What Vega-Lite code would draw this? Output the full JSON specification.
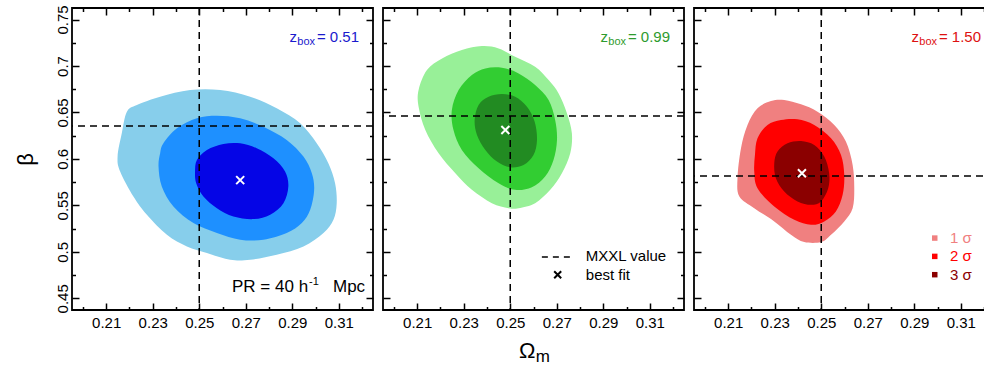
{
  "$schema": "https://vega.github.io/schema/vega-lite/v6.json",
  "background": "white",
  "padding": {"left": 13, "top": 4, "right": 0, "bottom": 0},
  "spacing": 6,
  "config": {
    "view": {"stroke": "black", "strokeWidth": 1.8},
    "font": "Liberation Sans",
    "axis": {"labelFont": "Liberation Sans", "labelFontSize": 15, "labelColor": "black", "tickColor": "black", "tickWidth": 1.5, "domain": false, "grid": false, "labelOverlap": false, "labelFlush": false},
    "text": {"font": "Liberation Sans"}
  },
  "datasets": {
    "contours": [
      {"p":1,"l":1,"i":0,"x":0.2189,"y":0.6508},{"p":1,"l":1,"i":1,"x":0.2232,"y":0.6580},{"p":1,"l":1,"i":2,"x":0.2332,"y":0.6669},{"p":1,"l":1,"i":3,"x":0.2461,"y":0.6741},{"p":1,"l":1,"i":4,"x":0.2590,"y":0.6741},{"p":1,"l":1,"i":5,"x":0.2719,"y":0.6669},{"p":1,"l":1,"i":6,"x":0.2833,"y":0.6544},{"p":1,"l":1,"i":7,"x":0.2934,"y":0.6383},{"p":1,"l":1,"i":8,"x":0.3005,"y":0.6168},{"p":1,"l":1,"i":9,"x":0.3055,"y":0.5953},{"p":1,"l":1,"i":10,"x":0.3084,"y":0.5739},{"p":1,"l":1,"i":11,"x":0.3091,"y":0.5524},{"p":1,"l":1,"i":12,"x":0.3077,"y":0.5345},{"p":1,"l":1,"i":13,"x":0.3034,"y":0.5202},{"p":1,"l":1,"i":14,"x":0.2948,"y":0.5058},{"p":1,"l":1,"i":15,"x":0.2833,"y":0.4969},{"p":1,"l":1,"i":16,"x":0.2719,"y":0.4915},{"p":1,"l":1,"i":17,"x":0.2633,"y":0.4915},{"p":1,"l":1,"i":18,"x":0.2533,"y":0.4987},{"p":1,"l":1,"i":19,"x":0.2447,"y":0.5058},{"p":1,"l":1,"i":20,"x":0.2361,"y":0.5184},{"p":1,"l":1,"i":21,"x":0.2275,"y":0.5399},{"p":1,"l":1,"i":22,"x":0.2217,"y":0.5595},{"p":1,"l":1,"i":23,"x":0.2160,"y":0.5864},{"p":1,"l":1,"i":24,"x":0.2149,"y":0.6025},{"p":1,"l":1,"i":25,"x":0.2167,"y":0.6276},
      {"p":1,"l":2,"i":0,"x":0.2346,"y":0.6168},{"p":1,"l":2,"i":1,"x":0.2404,"y":0.6329},{"p":1,"l":2,"i":2,"x":0.2490,"y":0.6437},{"p":1,"l":2,"i":3,"x":0.2576,"y":0.6465},{"p":1,"l":2,"i":4,"x":0.2676,"y":0.6437},{"p":1,"l":2,"i":5,"x":0.2776,"y":0.6347},{"p":1,"l":2,"i":6,"x":0.2876,"y":0.6204},{"p":1,"l":2,"i":7,"x":0.2948,"y":0.6025},{"p":1,"l":2,"i":8,"x":0.2984,"y":0.5846},{"p":1,"l":2,"i":9,"x":0.2994,"y":0.5667},{"p":1,"l":2,"i":10,"x":0.2977,"y":0.5452},{"p":1,"l":2,"i":11,"x":0.2941,"y":0.5309},{"p":1,"l":2,"i":12,"x":0.2876,"y":0.5202},{"p":1,"l":2,"i":13,"x":0.2776,"y":0.5130},{"p":1,"l":2,"i":14,"x":0.2676,"y":0.5130},{"p":1,"l":2,"i":15,"x":0.2576,"y":0.5202},{"p":1,"l":2,"i":16,"x":0.2475,"y":0.5309},{"p":1,"l":2,"i":17,"x":0.2389,"y":0.5488},{"p":1,"l":2,"i":18,"x":0.2339,"y":0.5703},{"p":1,"l":2,"i":19,"x":0.2325,"y":0.5918},{"p":1,"l":2,"i":20,"x":0.2332,"y":0.6061},
      {"p":1,"l":3,"i":0,"x":0.2490,"y":0.5989},{"p":1,"l":3,"i":1,"x":0.2533,"y":0.6097},{"p":1,"l":3,"i":2,"x":0.2604,"y":0.6161},{"p":1,"l":3,"i":3,"x":0.2676,"y":0.6168},{"p":1,"l":3,"i":4,"x":0.2747,"y":0.6115},{"p":1,"l":3,"i":5,"x":0.2819,"y":0.6007},{"p":1,"l":3,"i":6,"x":0.2869,"y":0.5864},{"p":1,"l":3,"i":7,"x":0.2883,"y":0.5703},{"p":1,"l":3,"i":8,"x":0.2862,"y":0.5524},{"p":1,"l":3,"i":9,"x":0.2805,"y":0.5399},{"p":1,"l":3,"i":10,"x":0.2733,"y":0.5352},{"p":1,"l":3,"i":11,"x":0.2647,"y":0.5381},{"p":1,"l":3,"i":12,"x":0.2576,"y":0.5470},{"p":1,"l":3,"i":13,"x":0.2518,"y":0.5595},{"p":1,"l":3,"i":14,"x":0.2487,"y":0.5739},{"p":1,"l":3,"i":15,"x":0.2482,"y":0.5864},
      {"p":2,"l":1,"i":0,"x":0.2142,"y":0.6956},{"p":2,"l":1,"i":1,"x":0.2207,"y":0.7081},{"p":2,"l":1,"i":2,"x":0.2292,"y":0.7171},{"p":2,"l":1,"i":3,"x":0.2378,"y":0.7214},{"p":2,"l":1,"i":4,"x":0.2450,"y":0.7189},{"p":2,"l":1,"i":5,"x":0.2521,"y":0.7099},{"p":2,"l":1,"i":6,"x":0.2607,"y":0.6992},{"p":2,"l":1,"i":7,"x":0.2665,"y":0.6848},{"p":2,"l":1,"i":8,"x":0.2708,"y":0.6705},{"p":2,"l":1,"i":9,"x":0.2744,"y":0.6490},{"p":2,"l":1,"i":10,"x":0.2765,"y":0.6276},{"p":2,"l":1,"i":11,"x":0.2758,"y":0.6061},{"p":2,"l":1,"i":12,"x":0.2722,"y":0.5846},{"p":2,"l":1,"i":13,"x":0.2672,"y":0.5667},{"p":2,"l":1,"i":14,"x":0.2607,"y":0.5524},{"p":2,"l":1,"i":15,"x":0.2536,"y":0.5470},{"p":2,"l":1,"i":16,"x":0.2493,"y":0.5470},{"p":2,"l":1,"i":17,"x":0.2421,"y":0.5524},{"p":2,"l":1,"i":18,"x":0.2335,"y":0.5667},{"p":2,"l":1,"i":19,"x":0.2264,"y":0.5846},{"p":2,"l":1,"i":20,"x":0.2192,"y":0.6061},{"p":2,"l":1,"i":21,"x":0.2135,"y":0.6311},{"p":2,"l":1,"i":22,"x":0.2106,"y":0.6562},{"p":2,"l":1,"i":23,"x":0.2106,"y":0.6741},
      {"p":2,"l":2,"i":0,"x":0.2278,"y":0.6741},{"p":2,"l":2,"i":1,"x":0.2335,"y":0.6902},{"p":2,"l":2,"i":2,"x":0.2393,"y":0.6974},{"p":2,"l":2,"i":3,"x":0.2464,"y":0.6981},{"p":2,"l":2,"i":4,"x":0.2536,"y":0.6920},{"p":2,"l":2,"i":5,"x":0.2607,"y":0.6795},{"p":2,"l":2,"i":6,"x":0.2665,"y":0.6634},{"p":2,"l":2,"i":7,"x":0.2693,"y":0.6419},{"p":2,"l":2,"i":8,"x":0.2701,"y":0.6204},{"p":2,"l":2,"i":9,"x":0.2686,"y":0.5989},{"p":2,"l":2,"i":10,"x":0.2650,"y":0.5810},{"p":2,"l":2,"i":11,"x":0.2593,"y":0.5696},{"p":2,"l":2,"i":12,"x":0.2521,"y":0.5667},{"p":2,"l":2,"i":13,"x":0.2450,"y":0.5739},{"p":2,"l":2,"i":14,"x":0.2364,"y":0.5900},{"p":2,"l":2,"i":15,"x":0.2292,"y":0.6097},{"p":2,"l":2,"i":16,"x":0.2256,"y":0.6311},{"p":2,"l":2,"i":17,"x":0.2249,"y":0.6526},
      {"p":2,"l":3,"i":0,"x":0.2364,"y":0.6580},{"p":2,"l":3,"i":1,"x":0.2407,"y":0.6669},{"p":2,"l":3,"i":2,"x":0.2464,"y":0.6698},{"p":2,"l":3,"i":3,"x":0.2521,"y":0.6669},{"p":2,"l":3,"i":4,"x":0.2572,"y":0.6562},{"p":2,"l":3,"i":5,"x":0.2605,"y":0.6401},{"p":2,"l":3,"i":6,"x":0.2615,"y":0.6204},{"p":2,"l":3,"i":7,"x":0.2600,"y":0.6043},{"p":2,"l":3,"i":8,"x":0.2557,"y":0.5935},{"p":2,"l":3,"i":9,"x":0.2500,"y":0.5910},{"p":2,"l":3,"i":10,"x":0.2443,"y":0.5971},{"p":2,"l":3,"i":11,"x":0.2393,"y":0.6097},{"p":2,"l":3,"i":12,"x":0.2357,"y":0.6258},{"p":2,"l":3,"i":13,"x":0.2347,"y":0.6419},
      {"p":3,"l":1,"i":0,"x":0.2183,"y":0.6365},{"p":3,"l":1,"i":1,"x":0.2226,"y":0.6544},{"p":3,"l":1,"i":2,"x":0.2284,"y":0.6623},{"p":3,"l":1,"i":3,"x":0.2341,"y":0.6634},{"p":3,"l":1,"i":4,"x":0.2413,"y":0.6587},{"p":3,"l":1,"i":5,"x":0.2484,"y":0.6508},{"p":3,"l":1,"i":6,"x":0.2556,"y":0.6365},{"p":3,"l":1,"i":7,"x":0.2606,"y":0.6186},{"p":3,"l":1,"i":8,"x":0.2635,"y":0.5935},{"p":3,"l":1,"i":9,"x":0.2642,"y":0.5685},{"p":3,"l":1,"i":10,"x":0.2635,"y":0.5470},{"p":3,"l":1,"i":11,"x":0.2599,"y":0.5327},{"p":3,"l":1,"i":12,"x":0.2542,"y":0.5184},{"p":3,"l":1,"i":13,"x":0.2499,"y":0.5105},{"p":3,"l":1,"i":14,"x":0.2427,"y":0.5105},{"p":3,"l":1,"i":15,"x":0.2370,"y":0.5184},{"p":3,"l":1,"i":16,"x":0.2298,"y":0.5327},{"p":3,"l":1,"i":17,"x":0.2212,"y":0.5470},{"p":3,"l":1,"i":18,"x":0.2148,"y":0.5595},{"p":3,"l":1,"i":19,"x":0.2140,"y":0.5792},{"p":3,"l":1,"i":20,"x":0.2155,"y":0.6115},
      {"p":3,"l":2,"i":0,"x":0.2226,"y":0.6222},{"p":3,"l":2,"i":1,"x":0.2269,"y":0.6365},{"p":3,"l":2,"i":2,"x":0.2327,"y":0.6419},{"p":3,"l":2,"i":3,"x":0.2398,"y":0.6426},{"p":3,"l":2,"i":4,"x":0.2470,"y":0.6365},{"p":3,"l":2,"i":5,"x":0.2542,"y":0.6222},{"p":3,"l":2,"i":6,"x":0.2585,"y":0.6043},{"p":3,"l":2,"i":7,"x":0.2599,"y":0.5828},{"p":3,"l":2,"i":8,"x":0.2592,"y":0.5613},{"p":3,"l":2,"i":9,"x":0.2563,"y":0.5434},{"p":3,"l":2,"i":10,"x":0.2513,"y":0.5327},{"p":3,"l":2,"i":11,"x":0.2456,"y":0.5291},{"p":3,"l":2,"i":12,"x":0.2384,"y":0.5345},{"p":3,"l":2,"i":13,"x":0.2298,"y":0.5488},{"p":3,"l":2,"i":14,"x":0.2226,"y":0.5685},{"p":3,"l":2,"i":15,"x":0.2212,"y":0.5864},{"p":3,"l":2,"i":16,"x":0.2215,"y":0.6043},
      {"p":3,"l":3,"i":0,"x":0.2298,"y":0.5953},{"p":3,"l":3,"i":1,"x":0.2312,"y":0.6079},{"p":3,"l":3,"i":2,"x":0.2355,"y":0.6168},{"p":3,"l":3,"i":3,"x":0.2413,"y":0.6193},{"p":3,"l":3,"i":4,"x":0.2470,"y":0.6150},{"p":3,"l":3,"i":5,"x":0.2513,"y":0.6025},{"p":3,"l":3,"i":6,"x":0.2534,"y":0.5846},{"p":3,"l":3,"i":7,"x":0.2530,"y":0.5685},{"p":3,"l":3,"i":8,"x":0.2499,"y":0.5542},{"p":3,"l":3,"i":9,"x":0.2456,"y":0.5506},{"p":3,"l":3,"i":10,"x":0.2398,"y":0.5542},{"p":3,"l":3,"i":11,"x":0.2341,"y":0.5649},{"p":3,"l":3,"i":12,"x":0.2305,"y":0.5792}
    ],
    "mxxl": [{"p":1,"om":0.25,"beta":0.6355},{"p":2,"om":0.25,"beta":0.6462},{"p":3,"om":0.25,"beta":0.5817}],
    "bestfit": [{"p":1,"x":0.2676,"y":0.5772},{"p":2,"x":0.2479,"y":0.6311},{"p":3,"x":0.2417,"y":0.5846}]
  },
  "hconcat": [
    {
      "width": 301, "height": 302,
      "resolve": {"axis": {"x": "independent", "y": "independent"}},
      "layer": [
        {"data": {"name": "contours"}, "transform": [{"filter": "datum.p == 1 && datum.l == 1"}],
         "mark": {"type": "line", "interpolate": "cardinal-closed", "filled": true, "color": "#87CEEB"},
         "encoding": {
           "x": {"field": "x", "type": "quantitative", "scale": {"domain": [0.1953, 0.3247], "nice": false, "zero": false},
             "axis": {"orient": "bottom", "values": [0.2,0.21,0.22,0.23,0.24,0.25,0.26,0.27,0.28,0.29,0.3,0.31,0.32], "tickSize": {"condition": {"test": "round(datum.value*100)%2==1", "value": -7}, "value": -3.5}, "labelExpr": "round(datum.value*100)%2==1 ? format(datum.value,'.2f') : ''", "labelPadding": 12, "title": null}},
           "y": {"field": "y", "type": "quantitative", "scale": {"domain": [0.4374, 0.7624], "nice": false, "zero": false},
             "axis": {"orient": "left", "values": [0.45,0.475,0.5,0.525,0.55,0.575,0.6,0.625,0.65,0.675,0.7,0.725,0.75], "tickSize": {"condition": {"test": "round(datum.value*1000)%50==0", "value": -7}, "value": -3.5}, "labelExpr": "round(datum.value*1000)%50==0 ? format(datum.value,'.2~f') : ''", "labelAngle": -90, "labelAlign": "center", "labelBaseline": "bottom", "labelPadding": 9, "title": "β", "titleFontSize": 22, "titleFontWeight": "normal", "titleColor": "black", "titleFont": "Liberation Sans", "titlePadding": 14}},
           "order": {"field": "i", "type": "quantitative"}}},
        {"data": {"name": "contours"}, "transform": [{"filter": "datum.p == 1 && datum.l == 2"}],
         "mark": {"type": "line", "interpolate": "cardinal-closed", "filled": true, "color": "#1E90FF"},
         "encoding": {"x": {"field": "x", "type": "quantitative", "axis": null}, "y": {"field": "y", "type": "quantitative", "axis": null}, "order": {"field": "i", "type": "quantitative"}}},
        {"data": {"name": "contours"}, "transform": [{"filter": "datum.p == 1 && datum.l == 3"}],
         "mark": {"type": "line", "interpolate": "cardinal-closed", "filled": true, "color": "#0505E6"},
         "encoding": {"x": {"field": "x", "type": "quantitative", "axis": null}, "y": {"field": "y", "type": "quantitative", "axis": null}, "order": {"field": "i", "type": "quantitative"}}},
        {"data": {"name": "mxxl"}, "transform": [{"filter": "datum.p == 1"}],
         "mark": {"type": "rule", "strokeDash": [7, 5], "strokeWidth": 1.5, "color": "black"},
         "encoding": {"x": {"field": "om", "type": "quantitative", "axis": {"orient": "top", "values": [0.2,0.21,0.22,0.23,0.24,0.25,0.26,0.27,0.28,0.29,0.3,0.31,0.32], "tickSize": {"condition": {"test": "round(datum.value*100)%2==1", "value": -7}, "value": -3.5}, "labels": false, "title": null}}}},
        {"data": {"name": "mxxl"}, "transform": [{"filter": "datum.p == 1"}],
         "mark": {"type": "rule", "strokeDash": [7, 5], "strokeWidth": 1.5, "color": "black"},
         "encoding": {"y": {"field": "beta", "type": "quantitative", "axis": {"orient": "right", "values": [0.45,0.475,0.5,0.525,0.55,0.575,0.6,0.625,0.65,0.675,0.7,0.725,0.75], "tickSize": {"condition": {"test": "round(datum.value*1000)%50==0", "value": -7}, "value": -3.5}, "labels": false, "title": null}}}},
        {"data": {"name": "bestfit"}, "transform": [{"filter": "datum.p == 1"}],
         "mark": {"type": "point", "shape": "M-1,-1L1,1M1,-1L-1,1", "filled": false, "stroke": "white", "strokeWidth": 2, "size": 64, "opacity": 1},
         "encoding": {"x": {"field": "x", "type": "quantitative", "axis": null}, "y": {"field": "y", "type": "quantitative", "axis": null}}},
        {"data": {"values": [{}]}, "mark": {"type": "text", "text": "= 0.51", "align": "right", "baseline": "alphabetic", "fontSize": 15, "color": "#1a1acd"},
         "encoding": {"x": {"datum": 0.3187, "type": "quantitative", "axis": null}, "y": {"datum": 0.726, "type": "quantitative", "axis": null}}},
        {"data": {"values": [{}]}, "mark": {"type": "text", "text": "box", "align": "right", "baseline": "alphabetic", "fontSize": 11, "dx": -44, "dy": 3.5, "color": "#1a1acd"},
         "encoding": {"x": {"datum": 0.3187, "type": "quantitative", "axis": null}, "y": {"datum": 0.726, "type": "quantitative", "axis": null}}},
        {"data": {"values": [{}]}, "mark": {"type": "text", "text": "z", "align": "right", "baseline": "alphabetic", "fontSize": 15, "dx": -62, "color": "#1a1acd"},
         "encoding": {"x": {"datum": 0.3187, "type": "quantitative", "axis": null}, "y": {"datum": 0.726, "type": "quantitative", "axis": null}}},
        {"data": {"values": [{}]}, "mark": {"type": "text", "text": "Mpc", "align": "right", "baseline": "alphabetic", "fontSize": 17, "color": "black"},
         "encoding": {"x": {"datum": 0.3213, "type": "quantitative", "axis": null}, "y": {"datum": 0.4571, "type": "quantitative", "axis": null}}},
        {"data": {"values": [{}]}, "mark": {"type": "text", "text": "-1", "align": "left", "baseline": "alphabetic", "fontSize": 11, "dx": -56, "dy": -6.5, "color": "black"},
         "encoding": {"x": {"datum": 0.3213, "type": "quantitative", "axis": null}, "y": {"datum": 0.4571, "type": "quantitative", "axis": null}}},
        {"data": {"values": [{}]}, "mark": {"type": "text", "text": "PR = 40 h", "align": "right", "baseline": "alphabetic", "fontSize": 17, "dx": -57, "color": "black"},
         "encoding": {"x": {"datum": 0.3213, "type": "quantitative", "axis": null}, "y": {"datum": 0.4571, "type": "quantitative", "axis": null}}}
      ]
    },
    {
      "width": 301, "height": 302,
      "resolve": {"axis": {"x": "independent", "y": "independent"}},
      "layer": [
        {"data": {"name": "contours"}, "transform": [{"filter": "datum.p == 2 && datum.l == 1"}],
         "mark": {"type": "line", "interpolate": "cardinal-closed", "filled": true, "color": "#98F098"},
         "encoding": {
           "x": {"field": "x", "type": "quantitative", "scale": {"domain": [0.1953, 0.3247], "nice": false, "zero": false},
             "axis": {"orient": "bottom", "values": [0.2,0.21,0.22,0.23,0.24,0.25,0.26,0.27,0.28,0.29,0.3,0.31,0.32], "tickSize": {"condition": {"test": "round(datum.value*100)%2==1", "value": -7}, "value": -3.5}, "labelExpr": "round(datum.value*100)%2==1 ? format(datum.value,'.2f') : ''", "labelPadding": 12, "title": null}},
           "y": {"field": "y", "type": "quantitative", "scale": {"domain": [0.4374, 0.7624], "nice": false, "zero": false},
             "axis": {"orient": "left", "values": [0.45,0.475,0.5,0.525,0.55,0.575,0.6,0.625,0.65,0.675,0.7,0.725,0.75], "tickSize": {"condition": {"test": "round(datum.value*1000)%50==0", "value": -7}, "value": -3.5}, "labels": false, "title": null}},
           "order": {"field": "i", "type": "quantitative"}}},
        {"data": {"name": "contours"}, "transform": [{"filter": "datum.p == 2 && datum.l == 2"}],
         "mark": {"type": "line", "interpolate": "cardinal-closed", "filled": true, "color": "#32CD32"},
         "encoding": {"x": {"field": "x", "type": "quantitative", "axis": null}, "y": {"field": "y", "type": "quantitative", "axis": null}, "order": {"field": "i", "type": "quantitative"}}},
        {"data": {"name": "contours"}, "transform": [{"filter": "datum.p == 2 && datum.l == 3"}],
         "mark": {"type": "line", "interpolate": "cardinal-closed", "filled": true, "color": "#228B22"},
         "encoding": {"x": {"field": "x", "type": "quantitative", "axis": null}, "y": {"field": "y", "type": "quantitative", "axis": null}, "order": {"field": "i", "type": "quantitative"}}},
        {"data": {"name": "mxxl"}, "transform": [{"filter": "datum.p == 2"}],
         "mark": {"type": "rule", "strokeDash": [7, 5], "strokeWidth": 1.5, "color": "black"},
         "encoding": {"x": {"field": "om", "type": "quantitative", "axis": {"orient": "top", "values": [0.2,0.21,0.22,0.23,0.24,0.25,0.26,0.27,0.28,0.29,0.3,0.31,0.32], "tickSize": {"condition": {"test": "round(datum.value*100)%2==1", "value": -7}, "value": -3.5}, "labels": false, "title": null}}}},
        {"data": {"name": "mxxl"}, "transform": [{"filter": "datum.p == 2"}],
         "mark": {"type": "rule", "strokeDash": [7, 5], "strokeWidth": 1.5, "color": "black"},
         "encoding": {"y": {"field": "beta", "type": "quantitative", "axis": {"orient": "right", "values": [0.45,0.475,0.5,0.525,0.55,0.575,0.6,0.625,0.65,0.675,0.7,0.725,0.75], "tickSize": {"condition": {"test": "round(datum.value*1000)%50==0", "value": -7}, "value": -3.5}, "labels": false, "title": null}}}},
        {"data": {"name": "bestfit"}, "transform": [{"filter": "datum.p == 2"}],
         "mark": {"type": "point", "shape": "M-1,-1L1,1M1,-1L-1,1", "filled": false, "stroke": "white", "strokeWidth": 2, "size": 64, "opacity": 1},
         "encoding": {"x": {"field": "x", "type": "quantitative", "axis": null}, "y": {"field": "y", "type": "quantitative", "axis": null}}},
        {"data": {"values": [{}]}, "mark": {"type": "text", "text": "= 0.99", "align": "right", "baseline": "alphabetic", "fontSize": 15, "color": "#2e9b2e"},
         "encoding": {"x": {"datum": 0.3187, "type": "quantitative", "axis": null}, "y": {"datum": 0.726, "type": "quantitative", "axis": null}}},
        {"data": {"values": [{}]}, "mark": {"type": "text", "text": "box", "align": "right", "baseline": "alphabetic", "fontSize": 11, "dx": -44, "dy": 3.5, "color": "#2e9b2e"},
         "encoding": {"x": {"datum": 0.3187, "type": "quantitative", "axis": null}, "y": {"datum": 0.726, "type": "quantitative", "axis": null}}},
        {"data": {"values": [{}]}, "mark": {"type": "text", "text": "z", "align": "right", "baseline": "alphabetic", "fontSize": 15, "dx": -62, "color": "#2e9b2e"},
         "encoding": {"x": {"datum": 0.3187, "type": "quantitative", "axis": null}, "y": {"datum": 0.726, "type": "quantitative", "axis": null}}},
        {"data": {"values": [{}]}, "mark": {"type": "rule", "strokeDash": [6, 5], "strokeWidth": 1.5, "color": "black"},
         "encoding": {"x": {"datum": 0.2636, "type": "quantitative", "axis": null}, "x2": {"datum": 0.2765}, "y": {"datum": 0.4944, "type": "quantitative", "axis": null}}},
        {"data": {"values": [{}]}, "mark": {"type": "text", "text": "MXXL value", "align": "left", "baseline": "alphabetic", "fontSize": 15, "color": "black"},
         "encoding": {"x": {"datum": 0.2825, "type": "quantitative", "axis": null}, "y": {"datum": 0.4896, "type": "quantitative", "axis": null}}},
        {"data": {"values": [{}]}, "mark": {"type": "point", "shape": "M-1,-1L1,1M1,-1L-1,1", "filled": false, "stroke": "black", "strokeWidth": 2, "size": 49, "opacity": 1},
         "encoding": {"x": {"datum": 0.2704, "type": "quantitative", "axis": null}, "y": {"datum": 0.4754, "type": "quantitative", "axis": null}}},
        {"data": {"values": [{}]}, "mark": {"type": "text", "text": "best fit", "align": "left", "baseline": "alphabetic", "fontSize": 15, "color": "black"},
         "encoding": {"x": {"datum": 0.2825, "type": "quantitative", "axis": null}, "y": {"datum": 0.4694, "type": "quantitative", "axis": null}}},
        {"data": {"values": [{}]}, "mark": {"type": "text", "text": "Ω", "align": "center", "baseline": "alphabetic", "fontSize": 22, "color": "black"},
         "encoding": {"x": {"datum": 0.2573, "type": "quantitative", "axis": null}, "y": {"datum": 0.3859, "type": "quantitative", "axis": null}}},
        {"data": {"values": [{}]}, "mark": {"type": "text", "text": "m", "align": "left", "baseline": "alphabetic", "fontSize": 17, "color": "black"},
         "encoding": {"x": {"datum": 0.2610, "type": "quantitative", "axis": null}, "y": {"datum": 0.3811, "type": "quantitative", "axis": null}}}
      ]
    },
    {
      "width": 301, "height": 302,
      "resolve": {"axis": {"x": "independent", "y": "independent"}},
      "layer": [
        {"data": {"name": "contours"}, "transform": [{"filter": "datum.p == 3 && datum.l == 1"}],
         "mark": {"type": "line", "interpolate": "cardinal-closed", "filled": true, "color": "#F08080"},
         "encoding": {
           "x": {"field": "x", "type": "quantitative", "scale": {"domain": [0.1953, 0.3247], "nice": false, "zero": false},
             "axis": {"orient": "bottom", "values": [0.2,0.21,0.22,0.23,0.24,0.25,0.26,0.27,0.28,0.29,0.3,0.31,0.32], "tickSize": {"condition": {"test": "round(datum.value*100)%2==1", "value": -7}, "value": -3.5}, "labelExpr": "round(datum.value*100)%2==1 ? format(datum.value,'.2f') : ''", "labelPadding": 12, "title": null}},
           "y": {"field": "y", "type": "quantitative", "scale": {"domain": [0.4374, 0.7624], "nice": false, "zero": false},
             "axis": {"orient": "left", "values": [0.45,0.475,0.5,0.525,0.55,0.575,0.6,0.625,0.65,0.675,0.7,0.725,0.75], "tickSize": {"condition": {"test": "round(datum.value*1000)%50==0", "value": -7}, "value": -3.5}, "labels": false, "title": null}},
           "order": {"field": "i", "type": "quantitative"}}},
        {"data": {"name": "contours"}, "transform": [{"filter": "datum.p == 3 && datum.l == 2"}],
         "mark": {"type": "line", "interpolate": "cardinal-closed", "filled": true, "color": "#FF0000"},
         "encoding": {"x": {"field": "x", "type": "quantitative", "axis": null}, "y": {"field": "y", "type": "quantitative", "axis": null}, "order": {"field": "i", "type": "quantitative"}}},
        {"data": {"name": "contours"}, "transform": [{"filter": "datum.p == 3 && datum.l == 3"}],
         "mark": {"type": "line", "interpolate": "cardinal-closed", "filled": true, "color": "#8B0000"},
         "encoding": {"x": {"field": "x", "type": "quantitative", "axis": null}, "y": {"field": "y", "type": "quantitative", "axis": null}, "order": {"field": "i", "type": "quantitative"}}},
        {"data": {"name": "mxxl"}, "transform": [{"filter": "datum.p == 3"}],
         "mark": {"type": "rule", "strokeDash": [7, 5], "strokeWidth": 1.5, "color": "black"},
         "encoding": {"x": {"field": "om", "type": "quantitative", "axis": {"orient": "top", "values": [0.2,0.21,0.22,0.23,0.24,0.25,0.26,0.27,0.28,0.29,0.3,0.31,0.32], "tickSize": {"condition": {"test": "round(datum.value*100)%2==1", "value": -7}, "value": -3.5}, "labels": false, "title": null}}}},
        {"data": {"name": "mxxl"}, "transform": [{"filter": "datum.p == 3"}],
         "mark": {"type": "rule", "strokeDash": [7, 5], "strokeWidth": 1.5, "color": "black"},
         "encoding": {"y": {"field": "beta", "type": "quantitative", "axis": {"orient": "right", "values": [0.45,0.475,0.5,0.525,0.55,0.575,0.6,0.625,0.65,0.675,0.7,0.725,0.75], "tickSize": {"condition": {"test": "round(datum.value*1000)%50==0", "value": -7}, "value": -3.5}, "labels": false, "title": null}}}},
        {"data": {"name": "bestfit"}, "transform": [{"filter": "datum.p == 3"}],
         "mark": {"type": "point", "shape": "M-1,-1L1,1M1,-1L-1,1", "filled": false, "stroke": "white", "strokeWidth": 2, "size": 64, "opacity": 1},
         "encoding": {"x": {"field": "x", "type": "quantitative", "axis": null}, "y": {"field": "y", "type": "quantitative", "axis": null}}},
        {"data": {"values": [{}]}, "mark": {"type": "text", "text": "= 1.50", "align": "right", "baseline": "alphabetic", "fontSize": 15, "color": "#dd1111"},
         "encoding": {"x": {"datum": 0.3187, "type": "quantitative", "axis": null}, "y": {"datum": 0.726, "type": "quantitative", "axis": null}}},
        {"data": {"values": [{}]}, "mark": {"type": "text", "text": "box", "align": "right", "baseline": "alphabetic", "fontSize": 11, "dx": -44, "dy": 3.5, "color": "#dd1111"},
         "encoding": {"x": {"datum": 0.3187, "type": "quantitative", "axis": null}, "y": {"datum": 0.726, "type": "quantitative", "axis": null}}},
        {"data": {"values": [{}]}, "mark": {"type": "text", "text": "z", "align": "right", "baseline": "alphabetic", "fontSize": 15, "dx": -62, "color": "#dd1111"},
         "encoding": {"x": {"datum": 0.3187, "type": "quantitative", "axis": null}, "y": {"datum": 0.726, "type": "quantitative", "axis": null}}},
        {"data": {"values": [{}]}, "mark": {"type": "point", "shape": "square", "filled": true, "color": "#F08080", "size": 30, "opacity": 1},
         "encoding": {"x": {"datum": 0.2988, "type": "quantitative", "axis": null}, "y": {"datum": 0.5148, "type": "quantitative", "axis": null}}},
        {"data": {"values": [{}]}, "mark": {"type": "point", "shape": "square", "filled": true, "color": "#FF0000", "size": 30, "opacity": 1},
         "encoding": {"x": {"datum": 0.2988, "type": "quantitative", "axis": null}, "y": {"datum": 0.4951, "type": "quantitative", "axis": null}}},
        {"data": {"values": [{}]}, "mark": {"type": "point", "shape": "square", "filled": true, "color": "#8B0000", "size": 30, "opacity": 1},
         "encoding": {"x": {"datum": 0.2988, "type": "quantitative", "axis": null}, "y": {"datum": 0.4754, "type": "quantitative", "axis": null}}},
        {"data": {"values": [{}]}, "mark": {"type": "text", "text": "1 σ", "align": "left", "baseline": "alphabetic", "fontSize": 15, "color": "#F08080"},
         "encoding": {"x": {"datum": 0.3054, "type": "quantitative", "axis": null}, "y": {"datum": 0.5094, "type": "quantitative", "axis": null}}},
        {"data": {"values": [{}]}, "mark": {"type": "text", "text": "2 σ", "align": "left", "baseline": "alphabetic", "fontSize": 15, "color": "#FF0000"},
         "encoding": {"x": {"datum": 0.3054, "type": "quantitative", "axis": null}, "y": {"datum": 0.4896, "type": "quantitative", "axis": null}}},
        {"data": {"values": [{}]}, "mark": {"type": "text", "text": "3 σ", "align": "left", "baseline": "alphabetic", "fontSize": 15, "color": "#8B0000"},
         "encoding": {"x": {"datum": 0.3054, "type": "quantitative", "axis": null}, "y": {"datum": 0.4697, "type": "quantitative", "axis": null}}}
      ]
    }
  ]
}
